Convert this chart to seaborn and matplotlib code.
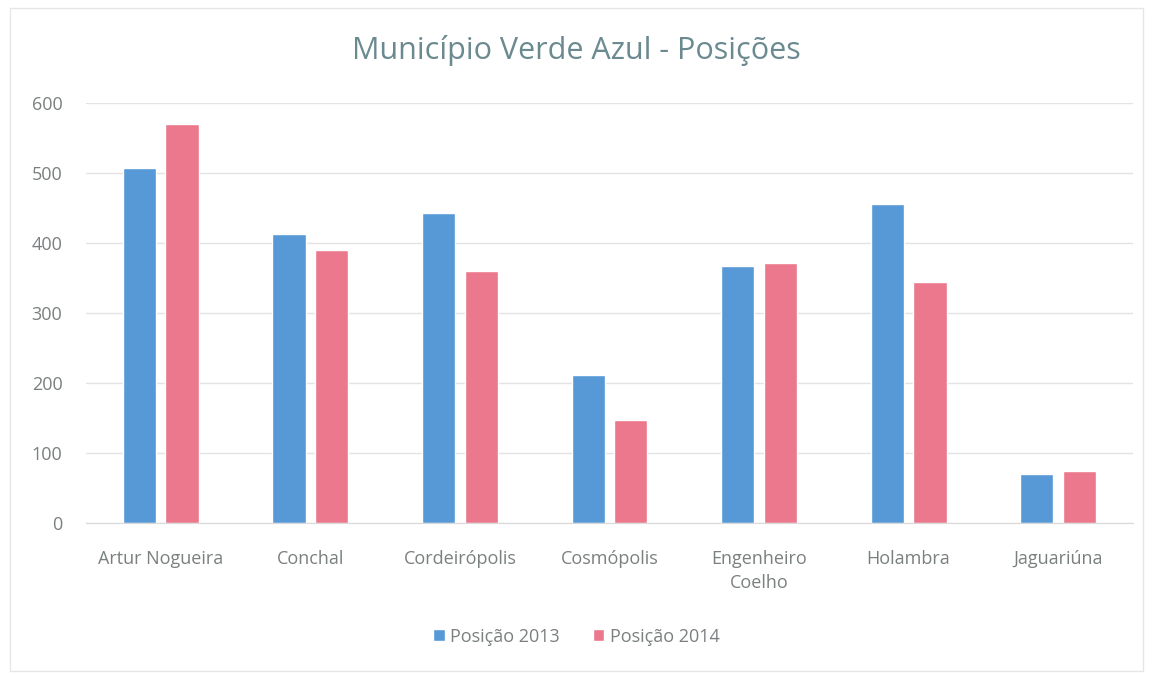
import pandas as pd
import numpy as np
import matplotlib
matplotlib.use("Agg")
import matplotlib.pyplot as plt
import seaborn as sns
from matplotlib.patches import Rectangle

# chart data
municipios = ["Artur Nogueira", "Conchal", "Cordeirópolis", "Cosmópolis",
              "Engenheiro\nCoelho", "Holambra", "Jaguariúna"]
posicao_2013 = [507, 414, 443, 212, 368, 456, 71]
posicao_2014 = [570, 391, 360, 148, 372, 345, 75]
series_names = ["Posição 2013", "Posição 2014"]
y_ticks = [0, 100, 200, 300, 400, 500, 600]

df = pd.DataFrame({
    "municipio": municipios * 2,
    "serie": [series_names[0]] * len(municipios) + [series_names[1]] * len(municipios),
    "valor": posicao_2013 + posicao_2014,
})

sns.set_style("white")
plt.rcParams["font.family"] = ["Open Sans", "DejaVu Sans"]

text_grey = "#7a7f80"
colors = {series_names[0]: "#5699d6", series_names[1]: "#eb788d"}

fig = plt.figure(figsize=(11.53, 6.76), dpi=100)
ax = fig.add_axes([0.0746, 0.226, 0.908, 0.621])

sns.barplot(data=df, x="municipio", y="valor", hue="serie", palette=colors,
            width=0.57, gap=0.22, ax=ax, saturation=1, legend=True)

ax.set_ylim(0, 600)
ax.set_yticks(y_ticks)
ax.set_xlim(-0.5, len(municipios) - 0.5)
ax.yaxis.grid(True, color="#e3e3e3", linewidth=1)
ax.set_axisbelow(True)
for side in ["top", "right", "left"]:
    ax.spines[side].set_visible(False)
ax.spines["bottom"].set_color("#d9d9d9")
ax.tick_params(axis="both", length=0, labelsize=13, colors=text_grey)
ax.tick_params(axis="x", pad=19)
ax.tick_params(axis="y", pad=17)
for lbl in ax.get_xticklabels():
    lbl.set_linespacing(1.45)
ax.set_xlabel("")
ax.set_ylabel("")

fig.text(0.5, 0.926, "Município Verde Azul - Posições", ha="center", va="center",
         fontsize=22, color="#6b8a8f")

handles, labels = ax.get_legend_handles_labels()
ax.legend_.remove()
fig.legend(handles, labels, loc="center", bbox_to_anchor=(0.5, 0.058), ncol=2,
           frameon=False, fontsize=13, labelcolor=text_grey, handlelength=0.65,
           handleheight=0.65, handletextpad=0.3, columnspacing=1.8)

fig.patches.append(Rectangle((0.009, 0.008), 0.982, 0.98, transform=fig.transFigure,
                             fill=False, edgecolor="#e6e6e6", linewidth=1))

fig.savefig("out.png", dpi=100)
